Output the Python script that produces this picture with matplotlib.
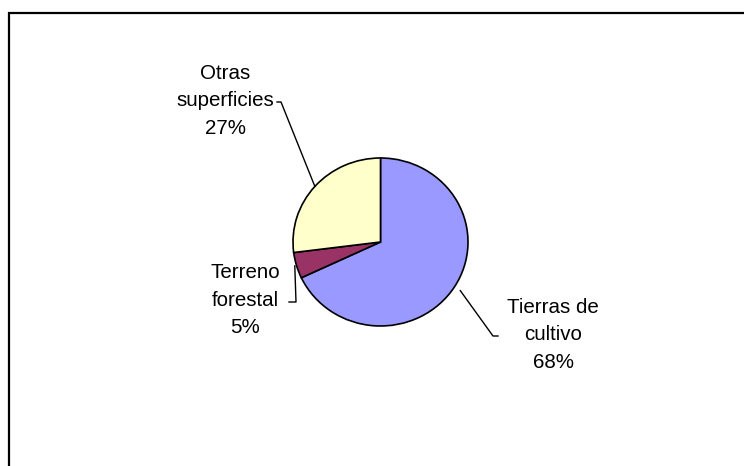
import numpy as np
import matplotlib
matplotlib.use("Agg")
import matplotlib.pyplot as plt
from matplotlib.patches import Rectangle

# Data
categories = ["Tierras de\ncultivo", "Terreno\nforestal", "Otras\nsuperficies"]
values = [68, 5, 27]
colors = ["#9999FF", "#993366", "#FFFFCC"]

W, H = 744, 466
fig = plt.figure(figsize=(W / 100, H / 100), dpi=100)
plt.rcParams['font.family'] = ['Liberation Sans', 'DejaVu Sans']

# axes: 400x400 px box centred on the pie centre
cx, cy = 380.5, 242
box = 400
ax = fig.add_axes([(cx - box / 2) / W, (H - cy - box / 2) / H, box / W, box / H])
rx, ry = 87.5, 84.0

wedges, _ = ax.pie(values, colors=colors, startangle=90, counterclock=False,
                   wedgeprops=dict(edgecolor="black", linewidth=1.2))
ax.set_aspect('auto')
ax.set_xlim(-box / 2 / rx, box / 2 / rx)
ax.set_ylim(-box / 2 / ry, box / 2 / ry)
ax.axis('off')

def px2d(px, py):
    return ((px - cx) / rx, (cy - py) / ry)

# label layout (pixel positions of text centres and leader elbows)
label_centers = [(553, 335), (245, 300), (225, 101)]
elbows = [((493, 336), (498, 336), 1.08),
          ((296, 302), (289, 302), 1.02),
          ((281, 102), (277, 102), 1.0)]

for w, cat, val, (tx, ty), (elb, end, r0) in zip(wedges, categories, values,
                                                   label_centers, elbows):
    mid = np.deg2rad((w.theta1 + w.theta2) / 2)
    sx, sy = r0 * np.cos(mid), r0 * np.sin(mid)
    ex, ey = px2d(*elb)
    fx, fy = px2d(*end)
    ax.plot([sx, ex, fx], [sy, ey, fy], color="black", lw=1.0, clip_on=False)
    lx, ly = px2d(tx, ty)
    ax.text(lx, ly, f"{cat}\n{val}%", ha="center", va="center", fontsize=14.8,
            linespacing=1.55, color="black")

# chart-area border (only top and left visible in the crop)
fig.add_artist(Rectangle((9 / W, -0.2), 1.5, (H - 13) / H + 0.2,
                         transform=fig.transFigure, fill=False,
                         edgecolor="black", linewidth=1.6, clip_on=False))

fig.savefig("out.png", dpi=100)
